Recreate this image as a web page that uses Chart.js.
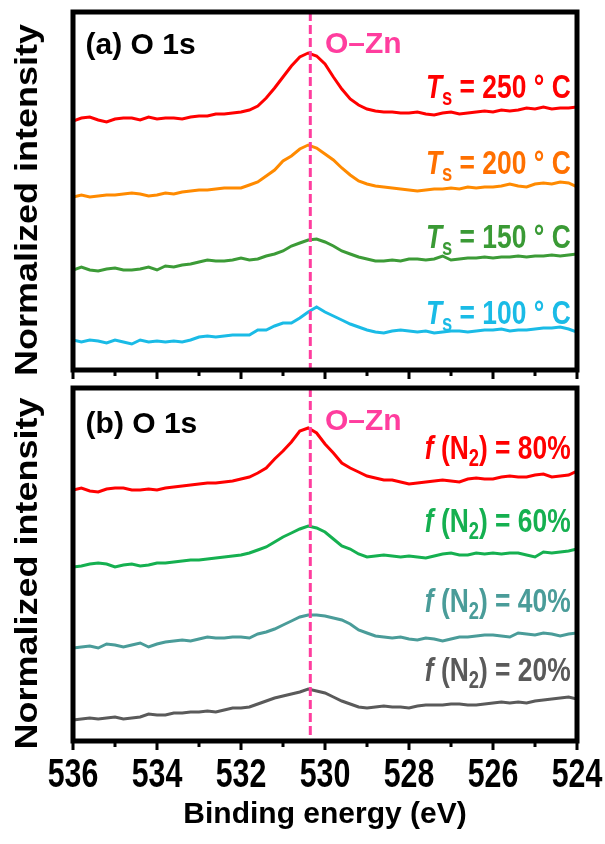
<!DOCTYPE html>
<html>
<head>
<meta charset="utf-8">
<script src="https://cdn.jsdelivr.net/npm/chart.js@4.4.1/dist/chart.umd.min.js"></script>
<style>
  html, body { margin: 0; padding: 0; background: #fff; }
  #wrap { position: relative; width: 605px; height: 844px; }
  canvas { position: absolute; left: 0; }
  #chartTop { top: 0; }
  #chartBottom { top: 384px; }
</style>
</head>
<body>
<div id="wrap">
  <canvas id="chartTop" width="605" height="384"></canvas>
  <canvas id="chartBottom" width="605" height="460"></canvas>
</div>
<script>
// binding energy grid (eV), shared by all spectra
const energyEV = [536, 535.8, 535.6, 535.4, 535.2, 535, 534.8, 534.6, 534.4, 534.2,
  534, 533.8, 533.6, 533.4, 533.2, 533, 532.8, 532.6, 532.4, 532.2,
  532, 531.8, 531.6, 531.4, 531.2, 531, 530.8, 530.6, 530.4, 530.2,
  530, 529.8, 529.6, 529.4, 529.2, 529, 528.8, 528.6, 528.4, 528.2,
  528, 527.8, 527.6, 527.4, 527.2, 527, 526.8, 526.6, 526.4, 526.2,
  526, 525.8, 525.6, 525.4, 525.2, 525, 524.8, 524.6, 524.4, 524.2, 524];

// (a) substrate temperature series, offset for stacking
const ts250 = [251, 254, 255, 252, 250, 253, 254, 254, 252, 255, 253, 254, 254, 253, 255, 256, 256, 258, 258, 259,
  260, 262, 266, 274, 284, 295, 306, 315, 319, 316, 308, 295, 283, 273, 267, 263, 261, 260, 260, 259,
  259, 260, 258, 257, 259, 260, 258, 259, 260, 261, 260, 262, 261, 262, 264, 263, 265, 263, 264, 264, 265];
const ts200 = [175, 177, 175, 176, 177, 177, 178, 179, 178, 176, 177, 179, 178, 180, 181, 182, 182, 183, 184, 184,
  184, 187, 190, 196, 202, 211, 216, 223, 227, 224, 218, 212, 204, 197, 191, 188, 186, 185, 184, 183,
  182, 181, 182, 183, 183, 184, 183, 185, 184, 185, 185, 186, 188, 186, 185, 188, 189, 188, 190, 189, 185];
const ts150 = [102, 105, 102, 101, 103, 104, 102, 102, 103, 105, 102, 106, 105, 107, 108, 110, 112, 111, 111, 112,
  114, 112, 113, 116, 118, 121, 126, 129, 132, 133, 130, 126, 121, 118, 115, 113, 111, 111, 112, 111,
  113, 113, 112, 113, 116, 112, 113, 114, 114, 115, 114, 115, 115, 116, 115, 116, 116, 117, 116, 117, 118];
const ts100 = [32, 30, 32, 31, 29, 32, 30, 28, 32, 30, 31, 30, 31, 30, 32, 35, 36, 35, 36, 37,
  37, 37, 42, 42, 46, 49, 49, 54, 60, 65, 60, 56, 52, 48, 45, 42, 40, 39, 41, 42,
  41, 40, 41, 39, 40, 41, 41, 40, 41, 42, 42, 43, 41, 42, 42, 43, 44, 44, 45, 43, 40];

// (b) N2 flow ratio series, offset for stacking
const fn80 = [248, 250, 247, 246, 249, 250, 250, 248, 248, 249, 248, 250, 251, 252, 253, 254, 255, 255, 256, 257,
  259, 261, 265, 270, 279, 287, 296, 307, 310, 305, 294, 285, 275, 270, 266, 262, 260, 258, 258, 256,
  254, 255, 256, 257, 258, 257, 256, 259, 260, 259, 259, 261, 262, 261, 261, 263, 264, 261, 262, 263, 267];
const fn60 = [171, 172, 174, 175, 174, 171, 173, 174, 172, 173, 175, 175, 176, 177, 178, 178, 179, 180, 181, 182,
  183, 185, 188, 191, 196, 201, 205, 209, 212, 210, 206, 199, 192, 189, 184, 181, 182, 183, 182, 181,
  182, 181, 180, 182, 184, 185, 183, 183, 185, 184, 185, 184, 185, 185, 183, 181, 186, 185, 186, 187, 189];
const fn40 = [90, 91, 92, 90, 94, 93, 91, 93, 95, 91, 94, 96, 97, 98, 97, 99, 101, 100, 100, 101,
  101, 100, 104, 106, 109, 113, 117, 121, 123, 123, 122, 120, 118, 114, 108, 105, 102, 101, 100, 101,
  99, 98, 100, 99, 97, 99, 101, 101, 102, 103, 103, 102, 101, 105, 104, 103, 105, 104, 102, 104, 105];
const fn20 = [18, 19, 20, 19, 20, 21, 19, 20, 21, 24, 23, 23, 25, 25, 26, 26, 27, 26, 28, 30,
  30, 31, 34, 37, 40, 42, 44, 46, 49, 47, 45, 41, 37, 34, 31, 30, 31, 32, 31, 31,
  30, 32, 33, 33, 33, 34, 34, 33, 33, 34, 35, 36, 35, 36, 35, 37, 38, 39, 40, 41, 39];

const tsNames = ['250', '200', '150', '100'];
const fnNames = ['80%', '60%', '40%', '20%'];
const majorTicks = [536, 534, 532, 530, 528, 526, 524];
const minorTicks = [535, 533, 531, 529, 527, 525];
const oZnEnergy = 530.35;

const PINK = '#FF3D9E';
const FONT = '"Liberation Sans", Arial, sans-serif';
// the figure uses condensed lettering; squeeze Liberation Sans to match
const SQUEEZE = 0.8;

const topSeries = [
  { data: ts250, line: '#FF0000', text: '#FF0000', label: tsNames[0], at: 274 },
  { data: ts200, line: '#FF8A00', text: '#FF7000', label: tsNames[1], at: 198 },
  { data: ts150, line: '#3C9B37', text: '#3A9A35', label: tsNames[2], at: 124 },
  { data: ts100, line: '#1ABBE6', text: '#1ABBE6', label: tsNames[3], at: 48 },
];
const bottomSeries = [
  { data: fn80, line: '#FF0000', text: '#FF0000', label: fnNames[0], at: 279 },
  { data: fn60, line: '#15B050', text: '#15B050', label: fnNames[1], at: 206 },
  { data: fn40, line: '#4A9C99', text: '#4A9C99', label: fnNames[2], at: 126 },
  { data: fn20, line: '#5A5A5A', text: '#5A5A5A', label: fnNames[3], at: 57 },
];

function toPoints(values) {
  return energyEV.map((e, i) => ({ x: e, y: values[i] }));
}

// draws a run of squeezed text pieces, right-aligned at xRight
function drawPieces(ctx, pieces, xRight, yBase, color) {
  let total = 0;
  pieces.forEach(p => { ctx.font = p.font; total += ctx.measureText(p.t).width; });
  ctx.save();
  ctx.translate(xRight - total * SQUEEZE, yBase);
  ctx.scale(SQUEEZE, 1);
  ctx.fillStyle = color;
  ctx.textBaseline = 'alphabetic';
  ctx.textAlign = 'left';
  let x = 0;
  pieces.forEach(p => {
    ctx.font = p.font;
    ctx.fillText(p.t, x, p.dy || 0);
    x += ctx.measureText(p.t).width;
  });
  ctx.restore();
}

function tsPieces(name) {
  return [
    { t: 'T', font: `italic bold 33px ${FONT}` },
    { t: 's', font: `bold 23px ${FONT}`, dy: 7 },
    { t: ` = ${name} ° C`, font: `bold 33px ${FONT}` },
  ];
}

function fnPieces(name) {
  return [
    { t: 'f', font: `italic bold 33px ${FONT}` },
    { t: ' (N', font: `bold 33px ${FONT}` },
    { t: '2', font: `bold 23px ${FONT}`, dy: 7 },
    { t: `) = ${name}`, font: `bold 33px ${FONT}` },
  ];
}

function panelDecor(panel) {
  return {
    id: 'panelDecor',
    afterDatasetsDraw(chart) {
      const { ctx, chartArea: a, scales: { x, y } } = chart;
      ctx.save();

      // O-Zn reference line
      const xz = x.getPixelForValue(oZnEnergy);
      ctx.strokeStyle = PINK;
      ctx.lineWidth = 3;
      ctx.setLineDash([9, 4]);
      ctx.beginPath();
      ctx.moveTo(xz, a.top);
      ctx.lineTo(xz, a.bottom);
      ctx.stroke();
      ctx.setLineDash([]);

      // frame and outward ticks on the bottom edge
      ctx.strokeStyle = '#000';
      ctx.lineWidth = 5;
      ctx.strokeRect(a.left, a.top, a.right - a.left, a.bottom - a.top);
      ctx.lineWidth = 3;
      ctx.beginPath();
      majorTicks.forEach(e => {
        const px = x.getPixelForValue(e);
        ctx.moveTo(px, a.bottom);
        ctx.lineTo(px, a.bottom + 9);
      });
      minorTicks.forEach(e => {
        const px = x.getPixelForValue(e);
        ctx.moveTo(px, a.bottom);
        ctx.lineTo(px, a.bottom + 6);
      });
      ctx.stroke();

      // tick numbers, condensed
      if (panel.tickLabels) {
        ctx.fillStyle = '#000';
        ctx.font = `bold 40px ${FONT}`;
        ctx.textAlign = 'center';
        ctx.textBaseline = 'alphabetic';
        majorTicks.forEach(e => {
          ctx.save();
          ctx.translate(x.getPixelForValue(e), a.bottom + 46);
          ctx.scale(0.76, 1);
          ctx.fillText(String(e), 0, 0);
          ctx.restore();
        });
      }

      // rotated axis title, slightly flattened
      ctx.save();
      ctx.translate(37, (a.top + a.bottom) / 2 + 9);
      ctx.rotate(-Math.PI / 2);
      ctx.scale(1, 0.85);
      ctx.fillStyle = '#000';
      ctx.font = `bold 36px ${FONT}`;
      ctx.textAlign = 'center';
      ctx.textBaseline = 'alphabetic';
      ctx.fillText('Normalized intensity', 0, 0);
      ctx.restore();

      // panel title and peak name
      ctx.fillStyle = '#000';
      ctx.font = `bold 30px ${FONT}`;
      ctx.textAlign = 'left';
      ctx.textBaseline = 'alphabetic';
      ctx.fillText(panel.title, x.getPixelForValue(535.7), y.getPixelForValue(panel.titleAt));
      ctx.fillStyle = PINK;
      ctx.font = `bold 30px ${FONT}`;
      ctx.fillText('O\u2013Zn', x.getPixelForValue(530.0), y.getPixelForValue(panel.zincAt));

      // series labels
      panel.series.forEach(s => {
        drawPieces(ctx, panel.pieces(s.label), x.getPixelForValue(524.15), y.getPixelForValue(s.at), s.text);
      });
      ctx.restore();
    }
  };
}

function makeChart(canvasId, panel) {
  const datasets = panel.series.map(s => ({
    data: toPoints(s.data),
    borderColor: s.line,
    borderWidth: 3,
    pointRadius: 0,
    tension: 0,
    fill: false,
  }));
  return new Chart(document.getElementById(canvasId), {
    type: 'line',
    data: { datasets },
    plugins: [panelDecor(panel)],
    options: {
      responsive: false,
      animation: false,
      layout: { padding: panel.padding },
      plugins: { legend: { display: false }, tooltip: { enabled: false } },
      scales: {
        x: {
          type: 'linear',
          min: 524,
          max: 536,
          reverse: true,
          display: panel.tickLabels,
          grid: { display: false, drawTicks: false },
          border: { display: false },
          ticks: { display: false },
          title: {
            display: true,
            text: 'Binding energy (eV)',
            color: '#000',
            font: { family: FONT, size: 30, weight: 'bold' },
            padding: { top: 0, bottom: 11 },
          },
          afterFit(scale) { scale.height = panel.xHeight; },
        },
        y: {
          min: panel.yMin,
          max: panel.yMax,
          grid: { display: false, drawTicks: false },
          border: { display: false },
          ticks: { display: false },
          afterFit(scale) { scale.width = 73; },
        },
      },
    },
  });
}

makeChart('chartTop', {
  series: topSeries, pieces: tsPieces, title: '(a) O 1s', titleAt: 318, zincAt: 319,
  yMin: 2, yMax: 360, tickLabels: false, xHeight: 0,
  padding: { top: 12, right: 28, bottom: 14, left: 0 },
});

makeChart('chartBottom', {
  series: bottomSeries, pieces: fnPieces, title: '(b) O 1s', titleAt: 305, zincAt: 308,
  yMin: -3, yMax: 350, tickLabels: true, xHeight: 103,
  padding: { top: 4, right: 28, bottom: 0, left: 0 },
});
</script>
</body>
</html>
